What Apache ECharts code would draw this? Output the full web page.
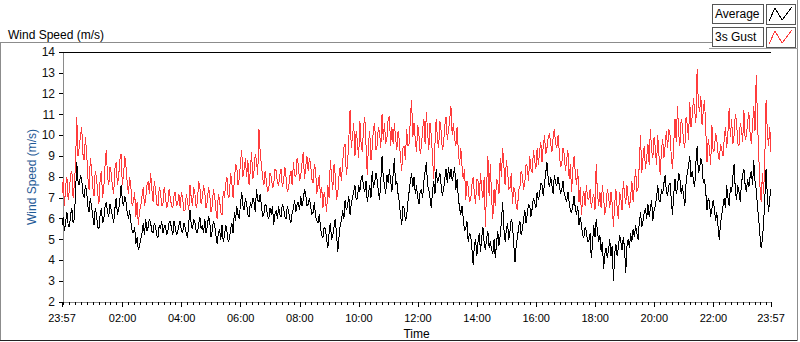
<!DOCTYPE html>
<html><head><meta charset="utf-8">
<script src="https://cdn.jsdelivr.net/npm/echarts@6/dist/echarts.min.js"></script>
<style>html,body{margin:0;padding:0;background:#fff}#c{width:800px;height:342px}#c svg path{shape-rendering:crispEdges}</style>
</head><body><div id="c"></div>
<script>
// time: minutes since midnight; series starts 23:57 (previous day), one sample every 2.5 min
const startMinute = -3;
const stepMinutes = 2.5;

const gust = [
7.2,7.9,6.6,7.6,8.0,6.9,7.4,8.1,8.3,7.0,7.6,8.6,10.9,9.0,9.4,10.0,10.4,9.1,8.8,9.9,
9.2,8.0,7.4,8.9,8.4,7.5,7.1,8.3,8.0,7.2,6.7,7.9,8.3,7.0,7.5,8.6,9.3,8.0,7.6,8.5,
8.2,7.5,7.2,8.4,8.7,7.6,8.0,8.8,9.1,7.6,8.1,9.0,8.5,7.7,7.2,8.0,7.5,6.6,6.8,7.3,
6.1,6.8,5.7,6.4,6.6,7.1,7.5,6.6,7.0,7.6,7.8,7.2,8.2,7.4,6.8,7.8,7.4,6.7,6.6,7.5,
7.3,6.6,6.7,7.5,7.1,6.5,6.7,7.4,7.0,6.6,6.5,7.1,7.3,6.6,6.7,7.2,6.5,7.3,7.0,6.4,
6.4,7.2,6.8,6.4,7.6,7.0,6.6,7.5,7.2,6.5,6.8,7.8,7.5,6.7,7.0,7.6,
7.3,6.5,6.8,7.5,7.2,6.3,6.6,7.4,7.1,6.4,6.0,7.2,6.9,6.3,6.2,7.3,7.0,7.7,8.0,7.0,
7.1,8.2,7.7,7.0,7.8,8.6,8.5,7.6,7.9,8.7,9.3,8.0,8.4,8.9,8.0,8.8,7.6,8.3,9.2,7.9,
8.3,9.1,8.8,8.1,10.3,9.2,8.6,8.0,7.6,8.3,7.8,7.3,7.4,8.2,8.0,7.5,7.6,8.4,8.3,7.7,
7.6,8.1,8.4,7.5,7.8,8.5,8.0,7.3,7.4,8.0,8.3,7.6,8.7,8.1,8.0,8.9,8.6,7.8,8.1,8.7,
9.2,7.9,8.5,9.0,8.3,8.9,8.6,7.9,7.7,8.6,8.4,7.2,7.6,8.1,7.0,7.5,6.5,7.3,6.9,6.3,
7.6,7.0,8.8,8.0,7.4,8.6,8.1,6.9,7.2,8.0,8.5,7.8,8.7,9.4,9.6,8.1,
8.6,9.8,11.2,9.4,9.9,10.6,9.0,10.2,9.7,8.9,10.7,9.6,9.2,10.4,10.9,9.5,8.1,9.6,10.2,8.8,
9.4,10.3,10.6,9.3,9.5,10.4,10.1,9.4,11.0,9.8,10.6,9.6,9.9,10.8,10.9,9.5,10.4,9.6,10.6,9.9,
9.3,10.2,9.8,8.9,8.3,9.4,9.5,8.8,10.3,9.5,9.6,10.8,11.7,9.9,10.6,9.8,9.2,10.5,10.0,9.1,
9.5,10.3,10.8,9.6,11.1,10.2,9.3,10.6,10.0,9.0,7.9,9.6,10.8,9.8,9.4,10.7,10.2,9.3,9.6,10.5,
10.9,9.8,10.2,10.8,11.4,10.0,10.6,9.8,9.5,10.4,9.2,8.6,9.4,8.5,7.9,8.4,6.9,7.8,7.5,6.8,
6.9,7.6,8.0,7.2,6.7,7.9,7.8,6.9,8.2,7.4,7.0,8.0,5.6,7.6,9.0,7.1,
8.6,7.0,6.0,7.4,6.6,7.9,7.8,7.2,8.9,8.0,9.4,8.5,7.6,8.8,8.3,7.4,7.5,8.2,6.7,7.5,
7.3,6.6,6.4,7.4,7.5,8.3,8.1,7.4,7.7,8.6,8.5,7.8,9.0,8.4,8.2,9.3,8.8,8.4,9.4,8.6,
9.2,9.7,8.7,9.5,10.0,9.1,9.4,9.9,10.1,9.6,9.2,9.9,10.3,9.6,9.4,10.0,9.2,8.5,8.6,9.4,
9.1,8.3,8.8,9.3,7.9,8.6,7.3,8.4,9.0,8.2,7.6,8.4,6.8,7.5,6.2,7.0,7.3,6.6,7.6,7.0,
6.9,7.4,6.5,6.9,7.2,6.4,8.6,7.2,6.6,7.3,6.5,7.6,7.0,6.2,6.6,7.4,7.1,6.5,7.3,6.7,
5.6,6.7,7.4,6.5,6.0,7.3,7.0,6.4,7.8,7.2,6.7,7.6,7.0,6.5,7.1,7.8,
6.8,7.6,8.4,7.3,7.5,8.6,10.0,8.2,8.9,9.5,8.4,8.9,9.6,8.6,10.3,9.3,8.9,9.9,9.4,8.6,
10.0,9.0,8.1,9.3,9.8,8.9,9.5,10.2,9.4,10.3,10.0,9.0,8.4,9.6,10.8,9.7,11.4,10.1,9.5,10.8,
10.5,9.7,9.4,10.9,10.5,9.8,11.6,10.4,10.9,11.8,11.2,10.6,13.2,11.5,11.1,11.9,10.5,11.2,11.7,10.3,
8.7,9.8,9.4,8.6,10.5,9.2,9.3,10.1,9.8,9.1,8.8,9.6,9.3,9.0,9.8,10.4,9.4,10.1,11.3,9.9,
10.8,9.6,10.0,11.0,10.7,9.6,9.5,10.6,10.3,9.7,11.2,9.8,10.0,10.6,11.1,10.1,9.6,10.5,11.4,10.2,
12.9,10.8,9.1,7.6,6.8,8.2,7.2,9.0,11.7,10.2,9.5,10.4,9.2
];

const average = [
5.7,6.1,5.4,5.9,6.3,5.7,5.6,6.2,6.5,5.8,6.0,7.2,8.7,7.8,7.6,8.1,7.9,7.2,7.0,7.6,
7.3,6.6,6.3,7.0,6.6,6.1,5.7,6.5,6.2,5.6,5.5,6.2,6.5,5.8,6.0,6.6,6.8,6.3,6.1,6.7,
6.4,6.1,5.8,6.5,7.0,6.2,6.4,6.9,7.6,6.9,6.6,7.1,6.8,6.3,6.0,6.4,5.8,5.4,5.3,5.6,
4.8,5.1,4.5,4.7,5.0,5.3,5.8,5.2,6.0,5.4,5.6,6.0,5.8,5.4,5.3,5.8,5.6,5.2,5.1,5.7,
5.5,5.9,5.3,5.6,5.7,5.2,5.4,5.8,5.9,5.5,5.2,5.9,5.6,5.2,5.4,5.7,5.9,5.4,5.3,5.8,
5.6,5.3,5.1,5.8,6.4,5.7,5.5,6.0,5.8,5.4,5.3,5.7,6.1,5.5,5.7,5.3,
6.0,5.3,5.6,6.1,5.9,5.1,5.4,5.9,5.7,5.2,4.8,5.3,5.5,5.0,5.7,4.9,5.2,5.7,5.4,4.9,
5.0,5.5,5.8,5.3,6.3,5.9,6.6,6.2,6.0,6.7,7.3,6.6,6.4,7.0,6.7,6.2,6.1,6.8,6.5,7.0,
6.8,6.3,7.4,6.9,6.8,7.2,6.6,6.1,6.2,6.7,6.6,6.1,6.0,6.5,6.2,6.6,5.7,6.2,6.4,6.0,
6.6,6.2,6.1,6.7,6.5,6.1,6.0,6.6,6.4,6.0,5.8,6.3,6.5,6.9,6.3,6.7,6.8,6.4,7.1,6.6,
6.9,7.4,7.2,6.6,6.7,7.0,6.6,6.2,6.3,6.8,6.1,5.9,5.8,6.2,5.6,5.2,5.1,5.6,5.5,5.0,
4.6,5.3,5.8,5.0,5.2,5.6,6.0,5.3,4.4,5.1,5.7,5.9,6.4,6.0,6.9,6.4,
6.6,7.1,6.2,6.7,7.0,7.3,7.6,6.9,7.0,7.6,7.3,7.9,8.1,7.5,7.3,7.8,6.8,7.2,7.6,7.0,
8.3,7.5,7.7,8.2,7.9,7.3,6.9,7.8,9.0,8.0,7.6,7.2,8.1,7.7,8.4,7.8,7.3,8.1,8.9,7.6,
7.8,7.2,6.8,6.2,5.7,6.6,6.5,5.9,6.1,6.8,7.3,7.8,8.2,7.5,8.0,7.2,7.6,7.0,6.7,7.3,
7.4,7.0,7.8,8.3,8.7,7.6,7.4,7.0,6.5,7.3,7.8,7.2,8.4,7.7,7.9,8.2,7.6,7.1,7.4,7.9,
8.4,7.7,8.5,7.9,8.4,7.8,8.1,8.5,7.4,7.9,7.0,6.5,6.2,6.6,6.0,5.4,5.5,5.9,4.9,5.3,
5.2,4.6,3.8,4.7,5.0,4.2,4.9,5.3,4.4,5.1,5.6,4.8,4.5,5.1,5.4,4.6,
4.9,4.5,4.3,5.0,4.1,4.8,5.4,4.7,5.2,5.9,6.8,5.5,4.9,5.5,5.8,5.0,5.4,6.0,5.7,4.8,
3.9,4.7,5.1,5.6,5.9,5.2,5.5,6.0,6.4,5.8,6.2,6.7,6.6,6.1,6.5,7.0,6.8,6.5,7.3,6.9,
7.2,7.7,7.6,7.1,7.7,8.2,8.7,7.9,7.5,8.0,7.6,7.2,8.1,7.7,7.6,8.0,7.6,7.2,7.4,7.8,
7.2,7.0,6.8,7.3,6.8,6.4,6.3,6.6,7.1,6.5,6.2,6.6,5.7,6.1,5.7,5.2,5.1,5.6,5.4,4.9,
4.9,5.3,4.1,4.8,5.7,5.1,6.0,5.4,4.9,5.2,4.4,4.9,3.6,4.3,4.6,4.1,4.5,5.0,4.2,4.7,
3.0,4.3,4.8,4.2,4.6,5.2,4.9,4.5,5.1,4.6,3.4,4.7,5.0,4.6,5.3,4.9,
5.5,5.1,5.7,5.3,5.0,5.8,6.3,5.6,5.9,6.3,6.5,6.0,6.7,6.1,6.5,6.9,5.9,6.4,6.6,7.0,
7.6,6.9,6.8,7.4,7.2,7.7,8.1,7.3,7.1,7.6,7.7,6.9,6.2,7.2,7.9,7.2,7.5,8.2,7.9,7.2,
7.6,7.1,6.6,7.7,8.2,8.5,9.0,8.0,8.3,7.8,7.5,8.7,9.5,8.2,8.4,8.9,8.6,7.7,7.9,7.3,
6.4,7.0,6.8,6.1,6.5,6.9,6.5,5.9,6.3,5.6,5.0,5.8,6.2,6.6,7.0,6.5,7.6,7.0,6.6,7.5,
7.3,8.0,8.6,7.4,6.9,7.6,7.3,6.8,7.7,8.1,8.4,7.6,7.3,7.9,7.5,8.0,8.3,7.6,8.8,7.8,
7.4,6.6,6.0,5.2,4.6,5.0,5.8,7.0,8.4,7.1,6.3,7.0,7.4
];

const xTickValues = [-3,120,240,360,480,600,720,840,960,1080,1200,1320,1437];
const xTickLabels = ['23:57','02:00','04:00','06:00','08:00','10:00','12:00','14:00','16:00','18:00','20:00','22:00','23:57'];
const xMinorTickValues = [];
for (let m = 0; m <= 1437; m += 12) xMinorTickValues.push(m);

const yMin = 2, yMax = 14, yInterval = 1;

const toPairs = arr => arr.map((v, i) => [startMinute + i * stepMinutes, v]);

const font = "'Liberation Sans', Arial, sans-serif";
const chart = echarts.init(document.getElementById('c'), null, {renderer: 'svg'});

const grid = {left: 62, top: 52, right: 29, bottom: 40, outerBoundsMode: 'none', containLabel: false};
const xMin = startMinute, xMax = startMinute + (gust.length - 1) * stepMinutes;

chart.setOption({
  animation: false,
  backgroundColor: '#fff',
  title: {text: 'Wind Speed (m/s)', left: 3, top: 24,
    textStyle: {fontFamily: font, fontSize: 12, fontWeight: 'normal', color: '#000'}},
  grid: grid,
  xAxis: [
    {type: 'value', min: xMin, max: xMax, position: 'bottom',
     name: 'Time', nameLocation: 'middle', nameGap: 26, nameMoveOverlap: false,
     nameTextStyle: {fontFamily: font, fontSize: 12, color: '#000'},
     axisLine: {show: true, lineStyle: {color: '#8a8a8a', width: 1}},
     axisTick: {show: true, customValues: xTickValues, length: 5, lineStyle: {color: '#000'}},
     axisLabel: {customValues: xTickValues, margin: 10, fontFamily: font, fontSize: 11, color: '#000',
       formatter: v => { const k = xTickValues.indexOf(v); return k >= 0 ? xTickLabels[k] : ''; }},
     splitLine: {show: false}},
    {type: 'value', min: xMin, max: xMax, position: 'bottom', gridIndex: 0,
     axisLine: {show: false},
     axisTick: {show: true, customValues: xMinorTickValues, length: 3, lineStyle: {color: '#000'}},
     axisLabel: {show: false}, splitLine: {show: false}},
    {type: 'value', min: xMin, max: xMax, position: 'top',
     axisLine: {show: true, lineStyle: {color: '#000', width: 1}},
     axisTick: {show: false}, axisLabel: {show: false}, splitLine: {show: false}}
  ],
  yAxis: [
    {type: 'value', min: yMin, max: yMax, interval: yInterval, position: 'left',
     name: 'Wind Speed (m/s)', nameLocation: 'middle', nameGap: 24, nameMoveOverlap: false,
     nameTextStyle: {fontFamily: font, fontSize: 12, color: '#1f5a96'},
     axisLine: {show: true, lineStyle: {color: '#000', width: 1}},
     axisTick: {show: true, length: 4, lineStyle: {color: '#000'}},
     axisLabel: {margin: 7, fontFamily: font, fontSize: 12, color: '#111'},
     splitLine: {show: false}},
    {type: 'value', min: yMin, max: yMax, interval: yInterval, position: 'right',
     axisLine: {show: true, lineStyle: {color: '#8a8a8a', width: 1}},
     axisTick: {show: false}, axisLabel: {show: false}, splitLine: {show: false}}
  ],
  series: [
    {name: '3s Gust', type: 'line', xAxisIndex: 0, yAxisIndex: 0, data: toPairs(gust),
     showSymbol: false, symbol: 'none', lineStyle: {color: '#ff3c3c', width: 1}, itemStyle: {color: '#ff3c3c'}},
    {name: 'Average', type: 'line', xAxisIndex: 0, yAxisIndex: 0, data: toPairs(average),
     showSymbol: false, symbol: 'none', lineStyle: {color: '#000', width: 1}, itemStyle: {color: '#000'}}
  ],
  graphic: [
    {type: 'line', shape: {x1: 0, y1: 42.5, x2: 712, y2: 42.5}, style: {stroke: '#8c8c8c', lineWidth: 1}, silent: true},
    {type: 'line', shape: {x1: 0.5, y1: 42, x2: 0.5, y2: 341}, style: {stroke: '#8c8c8c', lineWidth: 1}, silent: true},
    {type: 'line', shape: {x1: 0, y1: 340.5, x2: 798, y2: 340.5}, style: {stroke: '#222', lineWidth: 1}, silent: true},
    {type: 'line', shape: {x1: 797.5, y1: 0, x2: 797.5, y2: 341}, style: {stroke: '#8c8c8c', lineWidth: 1}, silent: true},
    {type: 'line', shape: {x1: 709, y1: 48.5, x2: 798, y2: 48.5}, style: {stroke: '#a0a0a0', lineWidth: 1}, silent: true},
    {type: 'rect', shape: {x: 712.5, y: 4.5, width: 51, height: 19}, style: {fill: '#fff', stroke: '#555', lineWidth: 1}},
    {type: 'text', x: 715, y: 14, style: {text: 'Average', fontFamily: font, fontSize: 12, fill: '#000', verticalAlign: 'middle'}},
    {type: 'rect', shape: {x: 766.5, y: 4.5, width: 29, height: 20}, style: {fill: '#fff', stroke: '#555', lineWidth: 1}},
    {type: 'polyline', shape: {points: [[769, 21], [775, 8], [782, 20], [792, 7]]}, style: {stroke: '#000', lineWidth: 1, fill: null}},
    {type: 'rect', shape: {x: 712.5, y: 27.5, width: 51, height: 19}, style: {fill: '#fff', stroke: '#555', lineWidth: 1}},
    {type: 'text', x: 715, y: 37, style: {text: '3s Gust', fontFamily: font, fontSize: 12, fill: '#000', verticalAlign: 'middle'}},
    {type: 'rect', shape: {x: 766.5, y: 27.5, width: 29, height: 20}, style: {fill: '#fff', stroke: '#555', lineWidth: 1}},
    {type: 'polyline', shape: {points: [[769, 44], [775, 31], [782, 43], [792, 30]]}, style: {stroke: '#ff3c3c', lineWidth: 1, fill: null}}
  ]
});
</script>
</body></html>
